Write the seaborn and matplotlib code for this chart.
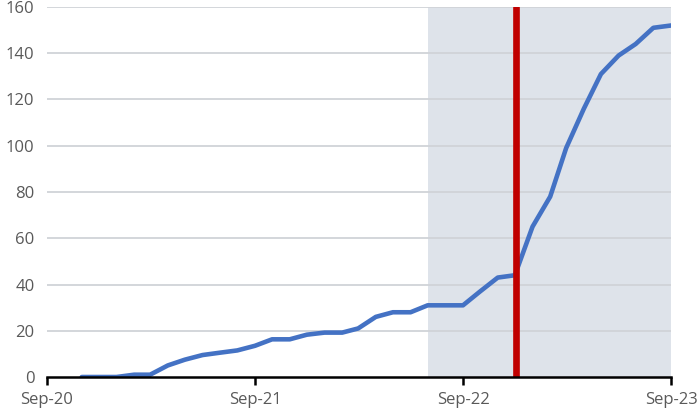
import pandas as pd
import matplotlib.pyplot as plt
import matplotlib.dates as mdates
import seaborn as sns

# monthly values
months = pd.date_range("2020-11-01", "2023-09-01", freq="MS")
values = [0, 0, 0, 1, 1, 5, 7.5, 9.5, 10.5, 11.5, 13.5, 16.3, 16.3, 18.3, 19.2, 19.2,
          21, 26, 28, 28, 31, 31, 31, 37, 43, 44, 65, 78, 99, 116, 131, 139, 144, 151, 152]
shade_start = pd.Timestamp("2022-07-01")
shade_end = pd.Timestamp("2023-09-01")
marker_date = pd.Timestamp("2022-12-03")
tick_dates = pd.to_datetime(["2020-09-01", "2021-09-01", "2022-09-01", "2023-09-01"])

df = pd.DataFrame({"month": months, "value": values})

sns.set_style("white")
plt.rcParams['font.family'] = ['Open Sans', 'DejaVu Sans']

fig = plt.figure(figsize=(7, 4.11), dpi=100)
ax = fig.add_axes([0.0671, 0.0827, 0.8915, 0.9003])

ax.axvspan(shade_start, shade_end, color="#dee3ea", zorder=0, lw=0)
for y in range(20, 161, 20):
    ax.axhline(y, color="#d0d3d8", lw=1.3, zorder=1)

sns.lineplot(data=df, x="month", y="value", color="#4472c4", lw=3.3, ax=ax, zorder=3)
ax.axvline(marker_date, color="#c00000", lw=4.8, zorder=4)

ax.set_xlim(tick_dates[0], tick_dates[-1])
ax.set_ylim(0, 160)
ax.set_yticks(range(0, 161, 20))
ax.set_xticks(tick_dates)
ax.xaxis.set_major_formatter(mdates.DateFormatter("%b-%y"))
ax.set_xlabel("")
ax.set_ylabel("")

for s in ["top", "right", "left"]:
    ax.spines[s].set_visible(False)
ax.spines["bottom"].set_color("black")
ax.spines["bottom"].set_linewidth(1.8)
ax.spines["bottom"].set_zorder(5)
ax.tick_params(axis="x", direction="out", length=6, width=1.8, color="black",
               labelsize=12, labelcolor="#595959", pad=5, bottom=True)
ax.tick_params(axis="y", length=0, labelsize=12, labelcolor="#595959", pad=9)

fig.savefig("out.png", dpi=100)
